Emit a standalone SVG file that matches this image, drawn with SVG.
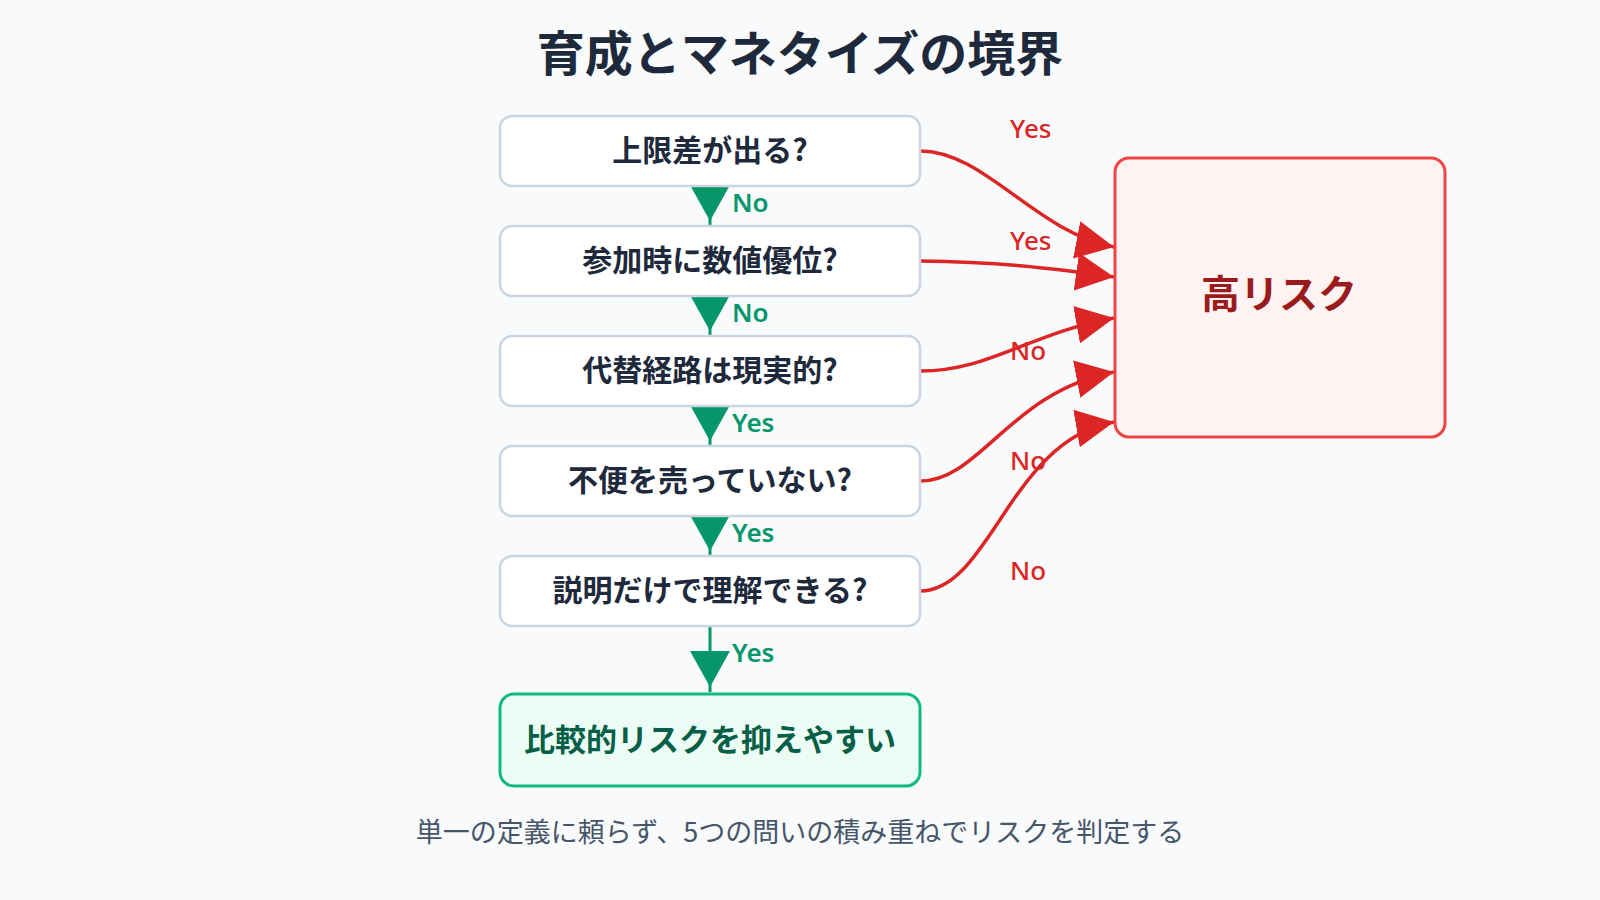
<svg xmlns="http://www.w3.org/2000/svg" width="1600" height="900" viewBox="0 0 1600 900">
  <defs>
    <style>
      .cjk { font-family: "Noto Sans CJK JP", "Noto Sans", sans-serif; }
      .title { font-size: 48px; font-weight: 700; fill: #1e293b; }
      .q { fill: #ffffff; stroke: #cbd5e1; stroke-width: 2.5; }
      .qt { font-size: 30px; font-weight: 700; fill: #1e293b; }
      .ok { fill: #ecfdf5; stroke: #10b981; stroke-width: 3; }
      .okt { font-size: 31px; font-weight: 700; fill: #065f46; }
      .risk { fill: #fef2f2; stroke: #ef4444; stroke-width: 3; }
      .riskt { font-size: 39px; font-weight: 700; fill: #991b1b; }
      .g { fill: none; stroke: #059669; stroke-width: 3; }
      .r { fill: none; stroke: #dc2626; stroke-width: 3.5; }
      .gl { font-family: "Noto Sans", "Noto Sans CJK JP", sans-serif; font-size: 26px; font-weight: 600; fill: #059669; }
      .rl { font-family: "Noto Sans", "Noto Sans CJK JP", sans-serif; font-size: 26px; font-weight: 500; fill: #dc2626; }
      .note { font-size: 27px; font-weight: 400; fill: #475569; }
    </style>
    <marker id="ag" viewBox="0 0 41 40" refX="41" refY="20" markerWidth="41" markerHeight="40" markerUnits="userSpaceOnUse" orient="auto">
      <path d="M0,0 L36,20 L0,40 z" fill="#059669"/>
    </marker>
    <marker id="ar" viewBox="0 0 38 38" refX="38" refY="19" markerWidth="38" markerHeight="38" markerUnits="userSpaceOnUse" orient="auto">
      <path d="M0,0 L38,19 L0,38 z" fill="#dc2626"/>
    </marker>
  </defs>

  <rect width="1600" height="900" fill="#f8fafc"/>

  <text class="cjk title" x="800" y="50" text-anchor="middle" dominant-baseline="central">育成とマネタイズの境界</text>

  <g id="connectors">
    <path class="g" d="M710,186 L710,226" marker-end="url(#ag)"/>
    <path class="g" d="M710,296 L710,336" marker-end="url(#ag)"/>
    <path class="g" d="M710,406 L710,446" marker-end="url(#ag)"/>
    <path class="g" d="M710,516 L710,556" marker-end="url(#ag)"/>
    <path class="g" d="M710,626 L710,692" marker-end="url(#ag)"/>
    <text class="gl" x="732" y="212">No</text>
    <text class="gl" x="732" y="322">No</text>
    <text class="gl" x="732" y="432">Yes</text>
    <text class="gl" x="732" y="542">Yes</text>
    <text class="gl" x="732" y="662">Yes</text>

    <path class="r" d="M920,151 C985,151 1035,232 1114,247" marker-end="url(#ar)"/>
    <path class="r" d="M920,261 C1000,262 1050,268 1114,277" marker-end="url(#ar)"/>
    <path class="r" d="M920,371 C990,371 1030,333 1114,318" marker-end="url(#ar)"/>
    <path class="r" d="M920,481 C980,481 1010,392 1114,372" marker-end="url(#ar)"/>
    <path class="r" d="M920,591 C990,591 1010,440 1114,422" marker-end="url(#ar)"/>
    <text class="rl" x="1010" y="138">Yes</text>
    <text class="rl" x="1010" y="250">Yes</text>
    <text class="rl" x="1010" y="360">No</text>
    <text class="rl" x="1010" y="470">No</text>
    <text class="rl" x="1010" y="580">No</text>
  </g>

  <g id="q1">
    <rect class="q" x="500" y="116" width="420" height="70" rx="12"/>
    <text class="cjk qt" x="710" y="148" text-anchor="middle" dominant-baseline="central">上限差が出る?</text>
  </g>
  <g id="q2">
    <rect class="q" x="500" y="226" width="420" height="70" rx="12"/>
    <text class="cjk qt" x="710" y="258" text-anchor="middle" dominant-baseline="central">参加時に数値優位?</text>
  </g>
  <g id="q3">
    <rect class="q" x="500" y="336" width="420" height="70" rx="12"/>
    <text class="cjk qt" x="710" y="368" text-anchor="middle" dominant-baseline="central">代替経路は現実的?</text>
  </g>
  <g id="q4">
    <rect class="q" x="500" y="446" width="420" height="70" rx="12"/>
    <text class="cjk qt" x="710" y="478" text-anchor="middle" dominant-baseline="central">不便を売っていない?</text>
  </g>
  <g id="q5">
    <rect class="q" x="500" y="556" width="420" height="70" rx="12"/>
    <text class="cjk qt" x="710" y="588" text-anchor="middle" dominant-baseline="central">説明だけで理解できる?</text>
  </g>
  <g id="ok">
    <rect class="ok" x="500" y="694" width="420" height="92" rx="14"/>
    <text class="cjk okt" x="710" y="737" text-anchor="middle" dominant-baseline="central">比較的リスクを抑えやすい</text>
  </g>
  <g id="risk">
    <rect class="risk" x="1115" y="158" width="330" height="279" rx="14"/>
    <text class="cjk riskt" x="1279" y="291" text-anchor="middle" dominant-baseline="central">高リスク</text>
  </g>

  <text class="cjk note" x="800" y="830" text-anchor="middle" dominant-baseline="central">単一の定義に頼らず、5つの問いの積み重ねでリスクを判定する</text>
</svg>
